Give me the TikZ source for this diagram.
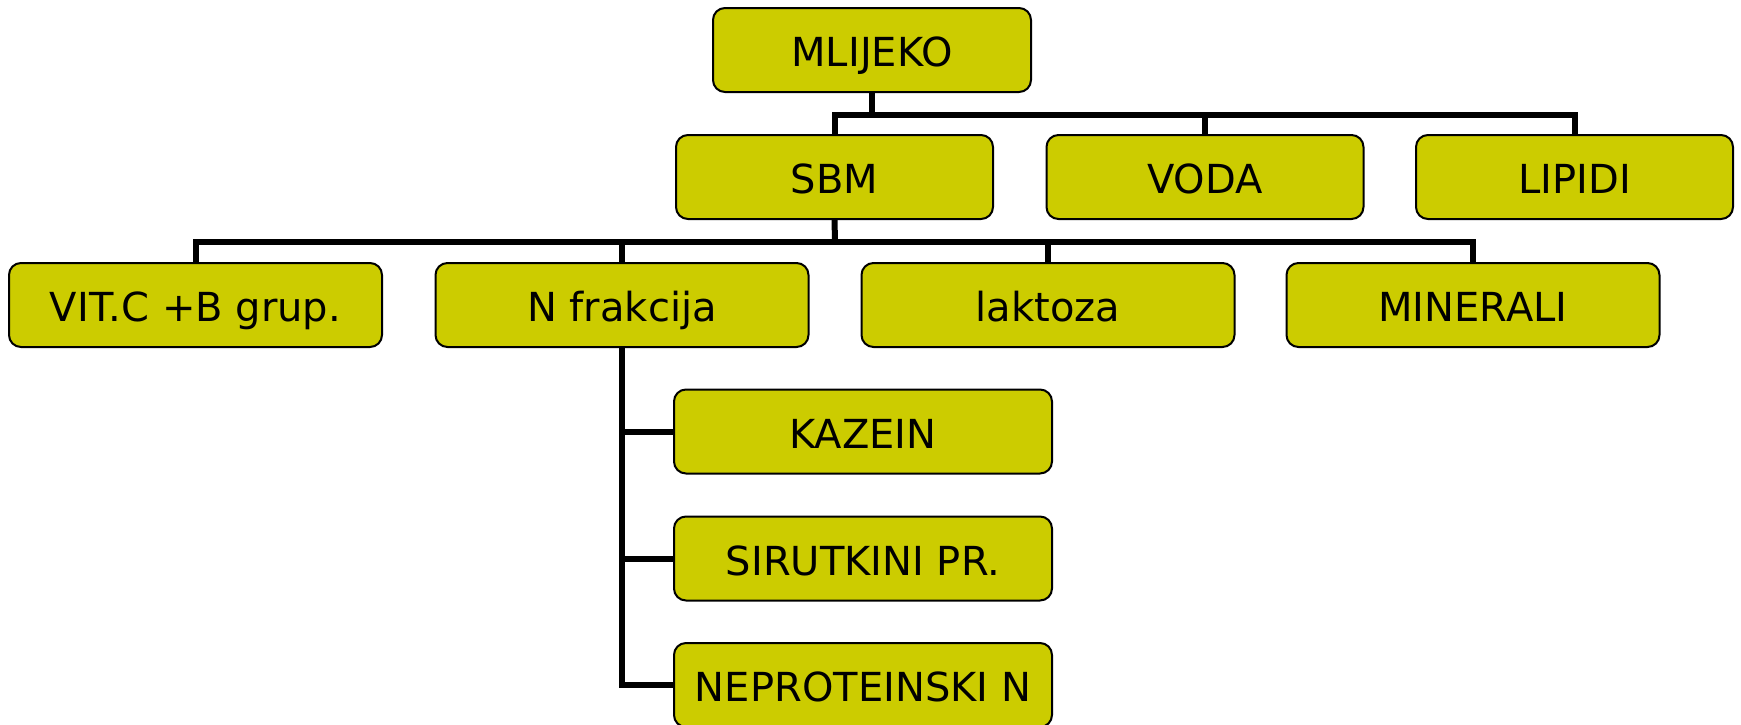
\documentclass[tikz,border=0pt]{standalone}
\usepackage{fontspec}
\setmainfont{DejaVu Sans}
\definecolor{boxfill}{RGB}{204,204,0}
\tikzset{
  box/.style={draw=black, line width=2pt, fill=boxfill, rounded corners=12pt,
    inner sep=0pt, outer sep=0pt, minimum height=84pt,
    font=\fontsize{40}{48}\selectfont, text height=33pt, text depth=0pt},
  conn/.style={draw=black, line width=6pt, line join=miter}
}
\begin{document}
\begin{tikzpicture}[x=1pt,y=-1pt]
\clip (0,0) rectangle (1741,724);
\useasboundingbox (0,0) rectangle (1741,724);
\coordinate (b1) at (872,115);
\coordinate (b2) at (835,242);
% nodes
\node[box, minimum width=318pt] (mlijeko) at (872,50) {MLIJEKO};
\node[box, minimum width=317pt] (sbm) at (834.5,177) {SBM};
\node[box, minimum width=317pt] (voda) at (1205,177) {VODA};
\node[box, minimum width=317pt] (lipidi) at (1574.5,177) {LIPIDI};
\node[box, minimum width=373pt] (vit) at (195.5,305) {VIT.C +B grup.};
\node[box, minimum width=373pt] (nfrak) at (622,305) {N frakcija};
\node[box, minimum width=373pt] (lakt) at (1048,305) {laktoza};
\node[box, minimum width=373pt] (miner) at (1473,305) {MINERALI};
\node[box, minimum width=378pt] (kazein) at (863,431.5) {KAZEIN};
\node[box, minimum width=378pt] (sirut) at (863,558.5) {SIRUTKINI PR.};
\node[box, minimum width=378pt] (nepro) at (863,685) {NEPROTEINSKI N};
% level 1
\draw[conn] (mlijeko.south) -- (mlijeko.south |- b1);
\draw[conn] (sbm.north) |- (lipidi.north |- b1) -- (lipidi.north);
\draw[conn] (voda.north) -- (voda.north |- b1);
% level 2
\draw[conn] (sbm.south) -- (b2);
\draw[conn] (vit.north) |- (miner.north |- b2) -- (miner.north);
\draw[conn] (nfrak.north) -- (nfrak.north |- b2);
\draw[conn] (lakt.north) -- (lakt.north |- b2);
% level 3
\draw[conn] (nfrak.south) |- (nepro.west);
\draw[conn] (kazein.west) -- (kazein.west -| nfrak.south);
\draw[conn] (sirut.west) -- (sirut.west -| nfrak.south);
\end{tikzpicture}
\end{document}
